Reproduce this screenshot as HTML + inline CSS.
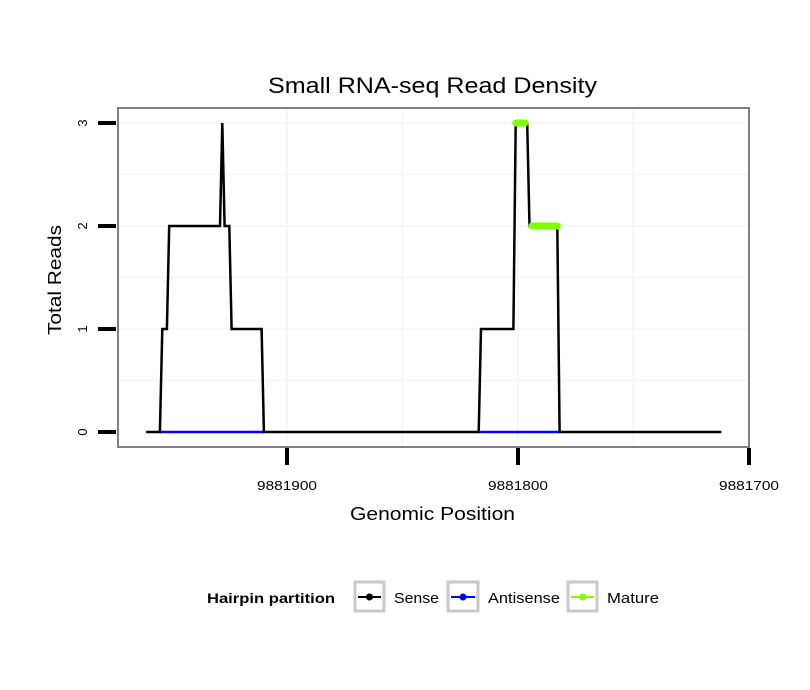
<!DOCTYPE html>
<html><head><meta charset="utf-8"><style>
html,body{margin:0;padding:0;background:#fff;}
svg{display:block;font-family:"Liberation Sans",sans-serif;}
</style></head><body>
<svg id="chart" width="810" height="690" viewBox="0 0 810 690">
<rect width="810" height="690" fill="#fff"/>
<text x="268" y="93" font-size="22" textLength="329" lengthAdjust="spacingAndGlyphs">Small RNA-seq Read Density</text>
<g id="plot"></g>
<text x="350" y="520" font-size="18" textLength="165" lengthAdjust="spacingAndGlyphs">Genomic Position</text>
<text transform="translate(61,335) rotate(-90)" font-size="18" textLength="110" lengthAdjust="spacingAndGlyphs">Total Reads</text>
<g>
<text x="207" y="603" font-size="14" font-weight="bold" textLength="128" lengthAdjust="spacingAndGlyphs">Hairpin partition</text>
<g>
<rect x="355" y="582" width="29" height="29" fill="#fff" stroke="#c8c8c8" stroke-width="3"/>
<line x1="358" y1="597" x2="381" y2="597" stroke="#000" stroke-width="2"/><circle cx="369.5" cy="597" r="3.5" fill="#000"/>
<text x="394" y="603" font-size="15" textLength="45" lengthAdjust="spacingAndGlyphs">Sense</text></g>
<g>
<rect x="448" y="582" width="30" height="29" fill="#fff" stroke="#c8c8c8" stroke-width="3"/>
<line x1="451" y1="597" x2="475" y2="597" stroke="#0000ff" stroke-width="2"/><circle cx="463" cy="597" r="3.5" fill="#0000ff"/>
<text x="488" y="603" font-size="15" textLength="72" lengthAdjust="spacingAndGlyphs">Antisense</text></g>
<g>
<rect x="568" y="582" width="29" height="29" fill="#fff" stroke="#c8c8c8" stroke-width="3"/>
<line x1="571" y1="597" x2="594" y2="597" stroke="#7fff00" stroke-width="2"/><circle cx="582.5" cy="597" r="3.5" fill="#7fff00"/>
<text x="607" y="603" font-size="15" textLength="52" lengthAdjust="spacingAndGlyphs">Mature</text></g>
</g>
</svg>
<script>
const positions = [9881961,9881955,9881954,9881952,9881951,9881929,9881928,9881927,9881925,9881924,9881911,9881910,9881817,9881816,9881802,9881801,9881796,9881795,9881783,9881782,9881712];
const senseReads = [0,0,1,1,2,2,3,2,2,1,1,0,0,1,1,3,3,2,2,0,0];
const antisenseStart = [9881955,9881817];
const antisenseEnd = [9881910,9881782];
const matureStart = [9881801,9881794];
const matureEnd = [9881797,9881783];
const matureReads = [3,2];
const xTicks = [9881900,9881800,9881700];
const xTickLabels = ["9881900","9881800","9881700"];
const yTicks = [0,1,2,3];
const yTickLabels = ["0","1","2","3"];

const NS="http://www.w3.org/2000/svg";
const g=document.getElementById('plot');
const L=118,R=749,T=108,B=447;
function xs(p){return 287+(9881900-p)*2.31;}
function ys(v){return 432-v*103;}
function mk(t,a,parent){const e=document.createElementNS(NS,t);for(const k in a)e.setAttribute(k,a[k]);(parent||g).appendChild(e);return e;}

const bg=mk('rect',{x:L,y:T,width:R-L,height:B-T,fill:'#fff'});


[9881850,9881750,9881900,9881800].forEach(p=>{const l=mk('line',{x1:xs(p),x2:xs(p),y1:T,y2:B,stroke:'#f7f7f7','stroke-width':2});

});
[0.5,1,1.5,2,2.5,3].forEach(v=>{const l=mk('line',{x1:L,x2:R,y1:ys(v),y2:ys(v),stroke:'#f7f7f7','stroke-width':2});

});
for(let i=0;i<antisenseStart.length;i++){
 const l=mk('line',{x1:xs(antisenseStart[i]),x2:xs(antisenseEnd[i]),y1:ys(0),y2:ys(0),stroke:'#0000ff','stroke-width':2.5});
 
 
}
let d=positions.map((p,i)=>(i?'L':'M')+xs(p).toFixed(1)+','+ys(senseReads[i]).toFixed(1)).join(' ');
const sl=mk('path',{d:d,fill:'none',stroke:'#000','stroke-width':2.5,'stroke-linejoin':'miter'});


for(let i=0;i<antisenseStart.length;i++){
 const l=mk('line',{x1:xs(antisenseStart[i])+1.5,x2:xs(antisenseEnd[i])-1.5,y1:ys(0),y2:ys(0),stroke:'#0000ff','stroke-width':2});
 
 
}
for(let i=0;i<matureStart.length;i++){
 const l=mk('line',{x1:xs(matureStart[i]),x2:xs(matureEnd[i]),y1:ys(matureReads[i]),y2:ys(matureReads[i]),stroke:'#7fff00','stroke-width':7,'stroke-linecap':'round'});
 
 
}
const bd=mk('rect',{x:L,y:T,width:R-L,height:B-T,fill:'none',stroke:'#808080','stroke-width':2});


yTicks.forEach((v,i)=>{
 const t=mk('line',{x1:98,x2:116,y1:ys(v),y2:ys(v),stroke:'#000','stroke-width':4});
 
 
 const tx=mk('text',{transform:`translate(87,${ys(v)}) rotate(-90)`,'text-anchor':'middle','font-size':13});
 tx.textContent=yTickLabels[i];
 
 
});
xTicks.forEach((p,i)=>{
 const t=mk('line',{x1:xs(p),x2:xs(p),y1:448,y2:465,stroke:'#000','stroke-width':4});
 
 
 const tx=mk('text',{x:xs(p)-30,y:490,'font-size':13,textLength:60,lengthAdjust:'spacingAndGlyphs'});
 tx.textContent=xTickLabels[i];
 
 
});
</script>
</body></html>
